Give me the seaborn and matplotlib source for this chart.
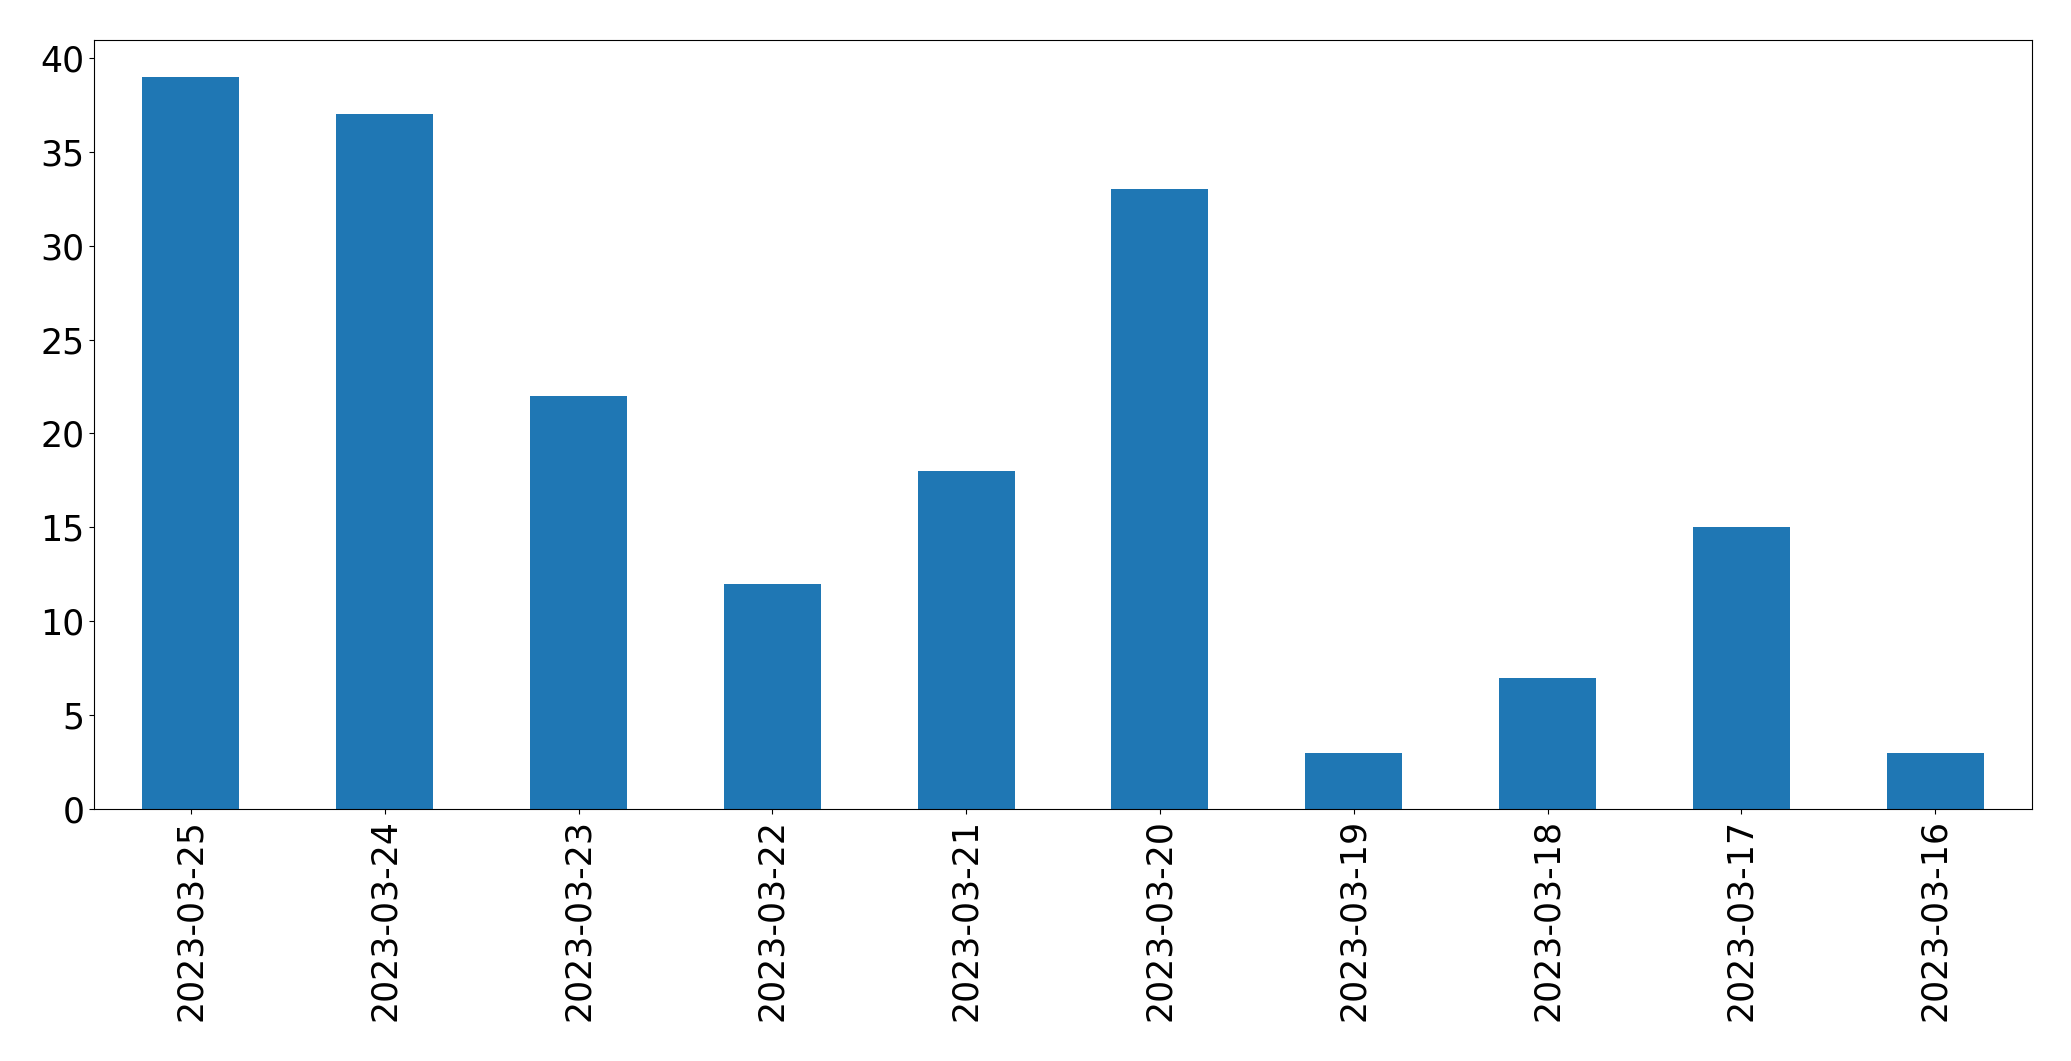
import pandas as pd
import seaborn as sns
import matplotlib
matplotlib.use("Agg")
import matplotlib.pyplot as plt

# Daily counts (newest first)
dates = ["2023-03-25", "2023-03-24", "2023-03-23", "2023-03-22", "2023-03-21",
         "2023-03-20", "2023-03-19", "2023-03-18", "2023-03-17", "2023-03-16"]
counts = [39, 37, 22, 12, 18, 33, 3, 7, 15, 3]

df = pd.DataFrame({"date": dates, "count": counts})

fig, ax = plt.subplots(figsize=(20.71, 10.61), dpi=100)
fig.subplots_adjust(left=0.0454, right=0.9812, top=0.9623, bottom=0.2375)

sns.barplot(data=df, x="date", y="count", order=dates, color="#1f77b4",
            saturation=1, width=0.5, ax=ax)

ax.set_xlim(-0.5, len(dates) - 0.5)
ax.set_ylim(0, max(counts) * 1.05)
ax.set_xlabel("")
ax.set_ylabel("")
ax.tick_params(axis="both", labelsize=25)
plt.xticks(rotation=90)

fig.savefig("out.png", dpi=100)
